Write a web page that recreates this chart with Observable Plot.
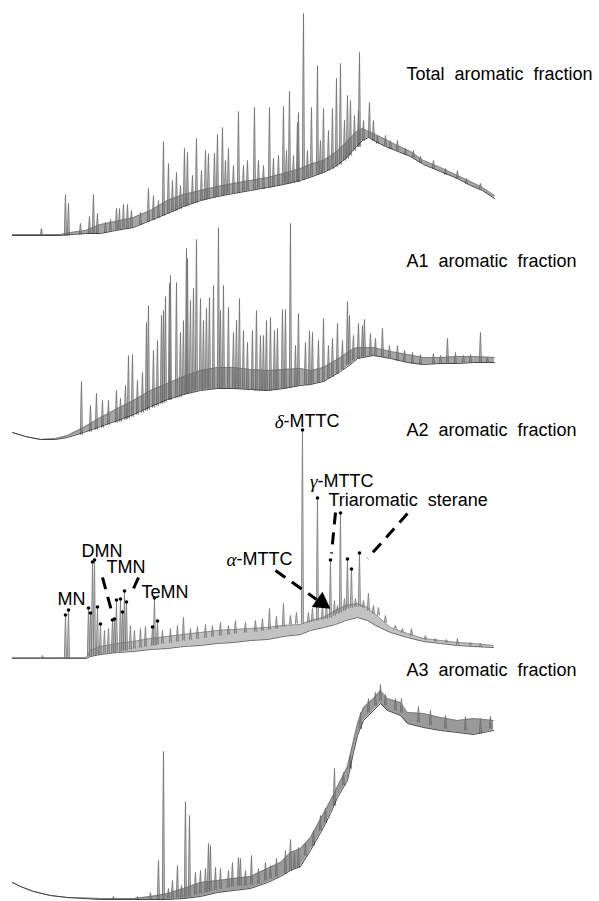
<!DOCTYPE html>
<html>
<head>
<meta charset="utf-8">
<script src="https://cdn.jsdelivr.net/npm/d3@7"></script>
<script src="https://cdn.jsdelivr.net/npm/@observablehq/plot@0.6"></script>
<style>
  html, body { margin: 0; padding: 0; background: #fff; }
  #chart svg { display: block; }
</style>
</head>
<body>
<div id="chart"></div>
<script>
// x = retention position, y = response (stacked traces, chart units; larger = lower on page)

// ---- Total aromatic fraction ----
// envelope: [x, lower edge, upper edge] of the noisy baseline band
const totalEnvelope = [[12,235,234],[60,235,234],[70,234,232],[85,233,230],[100,233,224],[115,230,221],[133,227,217],[150,220,210],[167,213,200],[183,206,194],[200,200,190],[217,196,186],[233,193,183],[250,190,180],[267,187,177],[283,184,173],[300,180,168],[312,176,163],[323,172,160],[335,166,152],[345,158,143],[355,147,132],[362,140,128],[368,137,131],[375,141,134],[385,146,139],[395,150,144],[410,156,151],[423,164,160],[440,171,167],[457,178,175],[470,185,181],[482,190,187],[494,198,195]];
// peaks: [x, base, top]
const totalPeaks = [[41,235,228],[65,235,194],[68,235,203],[80,234,223],[89,233,216],[93,233,194],[97,233,213],[105,232,222],[110,230,219],[116,229,208],[119,229,208],[123,228,204],[127,228,204],[131,227,210],[140,224,212],[148,221,188],[153,219,195],[158,217,200],[163,215,141],[168,213,163],[172,211,180],[176,210,172],[180,208,185],[184,206,148],[187,205,152],[192,203,175],[196,202,138],[201,200,170],[205,199,150],[208,198,153],[214,197,153],[217,196,134],[222,195,127],[225,194,160],[228,193,148],[233,193,165],[238,192,111],[243,191,165],[247,190,160],[254,189,107],[258,188,160],[263,188,165],[269,187,107],[273,186,158],[278,185,155],[283,184,106],[286,183,150],[289,183,91],[293,182,155],[297,181,122],[298,181,112],[303,179,13],[307,177,150],[311,176,107],[317,174,65],[320,173,140],[323,172,108],[328,170,130],[332,168,108],[336,166,78],[340,164,63],[344,160,120],[347,158,95],[350,155,100],[354,150,115],[358,146,110],[359,146,52],[363,140,120],[369,137,102],[373,140,120],[377,143,135],[385,145,135],[390,148,140],[397,150,140],[405,154,148],[413,157,150],[420,162,156],[433,168,160],[445,174,168],[457,178,170],[466,183,178],[480,188,183]];

// ---- A1 aromatic fraction ----
const a1Envelope = [[12,432,432],[25,436,436],[40,439,439],[55,439,438],[67,437,435],[83,432,427],[100,426,417],[117,420,408],[133,414,400],[150,406,390],[167,399,383],[183,394,376],[200,390,370],[217,388,367],[233,388,367],[250,389,369],[267,390,370],[283,388,369],[300,385,368],[310,384,370],[323,381,367],[340,371,357],[350,364,350],[357,358,347],[373,355,347],[390,358,351],[407,362,354],[423,364,357],[440,363,357],[457,363,356],[473,362,356],[494,362,357]];
const a1Peaks = [[81,434,381],[90,431,405],[96,429,393],[102,427,400],[108,424,400],[116,422,390],[120,421,398],[125,419,385],[128,418,355],[132,416,354],[137,414,380],[142,412,372],[146,410,322],[148,409,305],[153,407,350],[157,405,340],[161,403,315],[163,402,310],[165,401,296],[169,399,283],[170,399,275],[176,397,282],[180,396,332],[183,394,320],[186,393,248],[187,393,258],[190,392,300],[193,391,288],[196,390,239],[200,389,298],[203,389,320],[206,388,308],[209,388,297],[213,388,285],[218,388,227],[220,388,310],[223,388,285],[228,388,307],[233,388,332],[236,388,320],[239,388,298],[243,388,330],[247,389,342],[252,389,330],[256,390,310],[260,390,335],[263,390,335],[266,390,320],[270,390,317],[274,389,330],[277,389,328],[282,388,309],[285,388,309],[290,387,223],[295,386,345],[298,385,313],[305,384,342],[309,384,330],[312,383,332],[318,382,340],[323,381,318],[328,378,345],[332,376,338],[337,373,323],[342,369,340],[347,364,301],[349,363,315],[353,360,335],[358,358,323],[362,356,325],[364,356,319],[370,355,333],[375,355,338],[382,356,328],[389,357,345],[397,360,345],[404,361,350],[412,363,352],[420,364,354],[433,363,353],[440,363,355],[447,362,338],[455,363,352],[463,362,355],[470,362,354],[480,362,332],[487,362,357]];

// ---- A2 aromatic fraction ----
const a2Envelope = [[12,658,657],[40,658,657],[60,658,657],[86,658,657],[90,656,650],[100,654,646],[117,652,643],[133,651,641],[150,649,638],[167,648,636],[183,646,634],[200,645,632],[217,643,630],[233,642,629],[250,640,628],[267,639,627],[283,636,625],[300,634,624],[310,630,620],[323,627,617],[335,624,610],[345,620,605],[357,617,603],[367,620,607],[375,625,614],[390,632,627],[407,637,633],[423,641,638],[440,643,640],[457,645,642],[473,646,643],[493,647,645]];
// [x, base, top, marked(1 = identified compound dot)]
const a2Peaks = [[42,658,655,0],[65,658,616,1],[68,658,611,1],[88,656,609,1],[90,656,614,1],[92,655,563,1],[94,655,561,1],[97,654,608,1],[100,654,625,1],[104,653,630,0],[108,652,628,0],[112,652,621,1],[114,652,620,1],[116,651,601,1],[120,651,600,1],[122,650,613,1],[124,650,592,1],[126,650,603,1],[130,649,625,0],[134,648,630,0],[140,647,628,0],[145,646,626,0],[152,645,628,1],[154,645,599,1],[157,644,622,1],[162,643,630,0],[170,642,628,0],[177,641,625,0],[183,640,617,0],[190,639,628,0],[197,638,626,0],[205,637,624,0],[212,636,625,0],[220,635,622,0],[228,634,625,0],[235,633,620,0],[245,632,622,0],[255,631,620,0],[262,630,618,0],[269,629,608,0],[276,628,616,0],[283,626,603,0],[290,624,615,0],[296,623,612,0],[302,623,431,1],[308,622,612,0],[312,621,608,0],[317,620,499,1],[322,619,605,0],[326,618,604,0],[330,617,561,1],[334,615,600,0],[337,613,605,0],[340,612,514,1],[344,610,598,0],[347,608,560,1],[351,607,570,1],[355,606,598,0],[359,606,554,1],[363,607,600,0],[368,610,593,0],[373,613,605,0],[378,615,607,0],[385,622,615,0],[395,628,625,0],[402,632,628,0],[411,635,628,0],[425,639,635,0],[435,641,638,0],[446,642,639,0],[457,644,638,0],[470,645,642,0],[480,646,643,0]];

// ---- A3 aromatic fraction ----
const a3Envelope = [[12,882,882],[20,886,886],[33,891,891],[50,895,895],[67,897,897],[100,899,898],[133,899,898],[150,899,896],[167,899,893],[183,898,888],[200,896,882],[217,892,880],[233,890,878],[250,888,876],[267,882,868],[280,876,862],[290,870,852],[300,866,848],[310,850,837],[323,827,813],[330,813,800],[337,797,786],[347,780,766],[353,752,740],[357,735,723],[363,720,707],[373,710,698],[380,703,690],[387,710,698],[400,715,702],[407,723,712],[423,727,713],[440,730,717],[457,732,720],[473,734,718],[493,730,720]];
const a3Peaks = [[113,899,896],[137,899,896],[150,899,892],[158,899,860],[163,899,751],[168,898,888],[172,898,880],[177,897,865],[181,897,885],[185,897,801],[189,896,815],[195,894,872],[200,893,870],[205,892,868],[208,891,843],[210,890,845],[215,889,867],[220,888,868],[228,887,870],[232,886,862],[238,885,857],[240,885,858],[245,885,870],[251,884,855],[258,883,868],[265,880,862],[270,878,865],[276,876,858],[285,873,850],[290,870,839],[294,868,852],[298,867,847],[305,855,843],[313,845,830],[320,830,815],[325,822,808],[334,805,768],[343,785,772],[350,768,755],[360,728,712],[368,712,698],[375,705,692],[380,700,684],[385,705,694],[395,710,698],[401,712,698],[418,722,706],[430,725,710],[445,728,715],[465,730,716],[480,733,718],[490,728,716]];

// ---- Text ----
const fractionLabels = ["Total aromatic fraction", "A1 aromatic fraction", "A2 aromatic fraction", "A3 aromatic fraction"];
const fractionLabelY = [74, 261, 430, 670];
const compoundLabels = [
  {text: "MN", x: 57, y: 599},
  {text: "DMN", x: 81, y: 551},
  {text: "TMN", x: 106, y: 567},
  {text: "TeMN", x: 141, y: 592},
  {text: "Triaromatic sterane", x: 328, y: 500}
];
const greekLabels = [
  {greek: "δ", rest: "-MTTC", x: 283, y: 421},
  {greek: "γ", rest: "-MTTC", x: 317, y: 481},
  {greek: "α", rest: "-MTTC", x: 236, y: 559}
];
const leaders = [
  {x1: 102, y1: 577, x2: 112, y2: 614},
  {x1: 138, y1: 577, x2: 133, y2: 588},
  {x1: 335, y1: 512, x2: 331, y2: 553},
  {x1: 407, y1: 513, x2: 367, y2: 558},
  {x1: 275, y1: 570, x2: 316, y2: 599}
];
const arrowHeads = [{x: 321, y: 602}];

const PEAK_HALF_WIDTH = 1.1;
function spikes(peaks) {
  return peaks.flatMap((p, i) => [
    {x: p[0] - PEAK_HALF_WIDTH, y: p[1], i},
    {x: p[0], y: p[2], i},
    {x: p[0] + PEAK_HALF_WIDTH, y: p[1], i}
  ]);
}

function trace(env, peaks, band, line, peakColor) {
  const s = spikes(peaks);
  return [
    Plot.areaY(env, {x: d => d[0], y1: d => d[1], y2: d => d[2], fill: band, curve: "linear"}),
    Plot.areaY(s, {x: "x", y1: d => d.y, y2: (d, i) => s[i - (i % 3)].y, z: "i", fill: peakColor, fillOpacity: 0.5}),
    Plot.line(s, {x: "x", y: "y", z: "i", stroke: peakColor, strokeWidth: 0.8}),
    Plot.line(env, {x: d => d[0], y: d => d[2], stroke: peakColor, strokeWidth: 0.7}),
    Plot.line(env, {x: d => d[0], y: d => d[1], stroke: line, strokeWidth: 0.9})
  ];
}

const chart = Plot.plot({
  width: 599,
  height: 901,
  margin: 0,
  x: {domain: [0, 599], axis: null},
  y: {domain: [0, 901], range: [0, 901], axis: null},
  style: {fontFamily: "'Liberation Sans', Arial, sans-serif", background: "#fff", wordSpacing: "5px"},
  marks: [
    ...trace(totalEnvelope, totalPeaks, "#a5a5a5", "#333", "#6e6e6e"),
    ...trace(a1Envelope, a1Peaks, "#a5a5a5", "#333", "#6e6e6e"),
    ...trace(a2Envelope, a2Peaks, "#c2c2c2", "#555", "#7a7a7a"),
    ...trace(a3Envelope, a3Peaks, "#9a9a9a", "#333", "#6e6e6e"),
    Plot.dot(a2Peaks.filter(d => d[3] === 1), {x: d => d[0], y: d => d[2] - 1.5, r: 1.8, fill: "#000", stroke: "none"}),
    Plot.link(leaders, {x1: "x1", y1: "y1", x2: "x2", y2: "y2", stroke: "#000", strokeWidth: 3, strokeDasharray: "12,8"}),
    Plot.dot(arrowHeads, {x: "x", y: "y", symbol: "triangle", r: 7, rotate: 125, fill: "#000", stroke: "none"}),
    Plot.text(fractionLabels, {x: 406, y: (d, i) => fractionLabelY[i], text: d => d, textAnchor: "start", fontSize: 18, fill: "#000"}),
    Plot.text(compoundLabels, {x: "x", y: "y", text: "text", textAnchor: "start", fontSize: 18, fill: "#000"}),
    Plot.text(greekLabels, {x: "x", y: "y", text: "greek", textAnchor: "end", fontSize: 19, fontStyle: "italic", fontFamily: "'Liberation Serif', 'DejaVu Serif', serif", fill: "#000"}),
    Plot.text(greekLabels, {x: "x", y: "y", text: "rest", textAnchor: "start", fontSize: 18, fill: "#000"})
  ]
});
document.getElementById("chart").append(chart);
</script>
</body>
</html>
